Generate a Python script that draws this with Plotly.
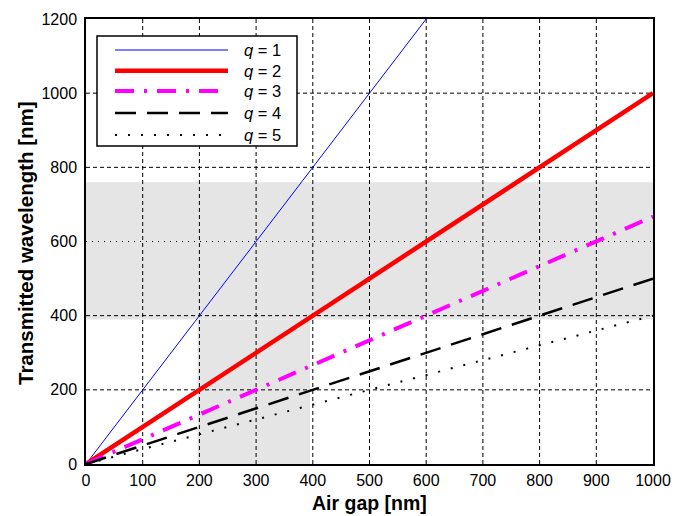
import plotly.graph_objects as go

# ---- data ----
gap_q1 = [0, 600]
wl_q1 = [0, 1200]
gap_q2 = [0, 1000]
wl_q2 = [0, 1000]
gap_q3 = [0, 1000]
wl_q3 = [0, 667]
gap_q4 = [0, 1000]
wl_q4 = [0, 500]
gap_q5 = [0, 1000]
wl_q5 = [0, 400]

series_names = ["q = 1", "q = 2", "q = 3", "q = 4", "q = 5"]
legend_labels = ["<i>q</i> = 1", "<i>q</i> = 2", "<i>q</i> = 3", "<i>q</i> = 4", "<i>q</i> = 5"]

# shaded regions (visible band and corresponding gap range)
band_wl = [390, 760]
band_gap = [197, 395]

x_ticks = [0, 100, 200, 300, 400, 500, 600, 700, 800, 900, 1000]
y_ticks = [0, 200, 400, 600, 800, 1000, 1200]

styles = [
    dict(color="#0000ff", width=1, dash="solid"),
    dict(color="#ff0000", width=4.5, dash="solid"),
    dict(color="#ff00ff", width=4, dash="19px,10px,3px,10px"),
    dict(color="#000000", width=2.5, dash="21px,11px"),
    dict(color="#000000", width=2, dash="2px,11px"),
]

xs = [gap_q1, gap_q2, gap_q3, gap_q4, gap_q5]
ys = [wl_q1, wl_q2, wl_q3, wl_q4, wl_q5]

fig = go.Figure()
for x, y, name, st in zip(xs, ys, series_names, styles):
    fig.add_trace(go.Scatter(x=x, y=y, mode="lines", name=name, line=st,
                             showlegend=False))

shapes = []
shapes.append(dict(type="rect", xref="x", yref="y", x0=0, x1=1000,
                   y0=band_wl[0], y1=band_wl[1], fillcolor="#e5e5e5",
                   line=dict(width=0), layer="below"))
shapes.append(dict(type="rect", xref="x", yref="y", x0=band_gap[0], x1=band_gap[1],
                   y0=0, y1=band_wl[0], fillcolor="#e5e5e5",
                   line=dict(width=0), layer="below"))
for xv in x_ticks[1:-1]:
    shapes.append(dict(type="line", xref="x", yref="y", x0=xv, x1=xv, y0=0, y1=1200,
                       line=dict(color="black", width=1, dash="4px,3px"), layer="below"))
for yv in y_ticks[1:-1]:
    d = "1px,5px" if yv == 600 else "4px,3px"
    shapes.append(dict(type="line", xref="x", yref="y", x0=0, x1=1000, y0=yv, y1=yv,
                       line=dict(color="black", width=1, dash=d), layer="below"))

# page offset (body margin) of 8 px
OFF = 8
W, H = 685 - OFF, 516 - OFF
ml, mr, mt, mb = 86 - OFF, 32, 19 - OFF, 52
pw, ph = W - ml - mr, H - mt - mb

def px(xp):
    return (xp - OFF - ml) / pw

def py(yp):
    return (H - mb - (yp - OFF)) / ph

shapes.append(dict(type="rect", xref="paper", yref="paper",
                   x0=px(97), x1=px(297), y0=py(36), y1=py(146),
                   fillcolor="white", line=dict(color="black", width=1.5), layer="above"))
annotations = []
row_y = [50, 70.7, 91, 113, 135]
for ry, lab, st in zip(row_y, legend_labels, styles):
    shapes.append(dict(type="line", xref="paper", yref="paper",
                       x0=px(115), x1=px(228), y0=py(ry), y1=py(ry),
                       line=dict(color=st["color"], width=st["width"], dash=st["dash"]),
                       layer="above"))
    annotations.append(dict(x=px(242), y=py(ry), xref="paper", yref="paper",
                            text=lab, showarrow=False, xanchor="left", yanchor="middle",
                            font=dict(size=16.5, color="black")))

annotations.append(dict(x=0.5, y=py(503), xref="paper", yref="paper",
                        text="<b>Air gap [nm]</b>", showarrow=False,
                        xanchor="center", yanchor="middle",
                        font=dict(size=19.5, color="black")))
annotations.append(dict(x=px(25), y=py(243), xref="paper", yref="paper",
                        text="<b>Transmitted wavelength [nm]</b>", showarrow=False,
                        textangle=-90, xanchor="center", yanchor="middle",
                        font=dict(size=20.5, color="black")))

fig.update_layout(
    width=W, height=H,
    margin=dict(l=ml, r=mr, t=mt, b=mb, pad=0, autoexpand=False),
    paper_bgcolor="white", plot_bgcolor="white",
    font=dict(family="Liberation Sans, Arial, sans-serif", color="black", size=16),
    shapes=shapes, annotations=annotations,
    xaxis=dict(range=[0, 1000], tickvals=x_ticks, ticktext=[str(v) for v in x_ticks],
               showgrid=False, zeroline=False, showline=True, linecolor="black",
               linewidth=1.5, mirror=True, ticks="", tickfont=dict(size=16),
               ticklabelstandoff=1, automargin=False),
    yaxis=dict(range=[0, 1200], tickvals=y_ticks, ticktext=[str(v) for v in y_ticks],
               showgrid=False, zeroline=False, showline=True, linecolor="black",
               linewidth=1.5, mirror=True, ticks="", tickfont=dict(size=16),
               ticklabelstandoff=4, automargin=False),
)

fig.write_html("out.html")
